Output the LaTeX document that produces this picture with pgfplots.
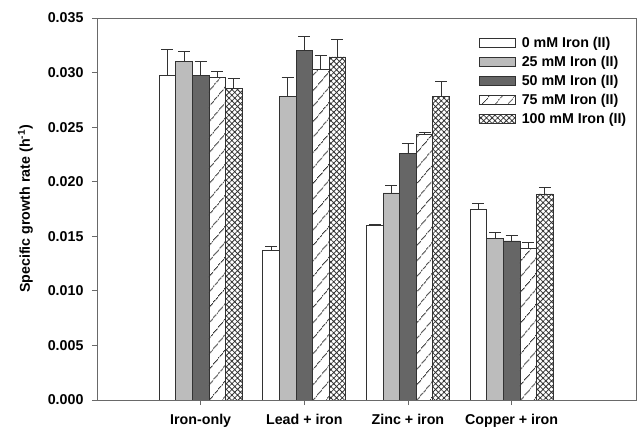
\documentclass[border=0pt]{standalone}
\usepackage{fontspec}
\setmainfont{Liberation Sans}
\usepackage{pgfplots}
\usepackage{pgfplotstable}
\pgfplotsset{compat=1.18}
\usetikzlibrary{patterns.meta}

\definecolor{barline}{RGB}{50,50,50}
\definecolor{lightbar}{RGB}{188,188,188}
\definecolor{darkbar}{RGB}{102,102,102}
\definecolor{axisgray}{RGB}{105,105,105}

% specific growth rate and standard error per treatment and Fe(II) level
\pgfplotstableread{
x  y0      e0      y25     e25     y50     e50     y75     e75     y100    e100
0  0.02975 0.00240 0.03100 0.00090 0.02970 0.00130 0.02953 0.00060 0.02852 0.00090
1  0.01368 0.00040 0.02782 0.00170 0.03200 0.00130 0.03030 0.00130 0.03143 0.00160
2  0.01597 0.00010 0.01897 0.00070 0.02263 0.00090 0.02434 0.00020 0.02782 0.00140
3  0.01747 0.00055 0.01478 0.00060 0.01457 0.00050 0.01390 0.00050 0.01888 0.00060
}\growth

\newcommand{\lblfont}{\fontsize{14.3}{16}\selectfont\bfseries}

\begin{document}
\begin{tikzpicture}
\useasboundingbox (-97bp,-29bp) rectangle (540bp,400bp);
\begin{axis}[
  at={(0,0)}, anchor=south west,
  scale only axis, width=539bp, height=382bp,
  xmin=-1, xmax=4.2, ymin=0, ymax=0.035,
  ybar=0pt, bar width=0.16,
  every axis plot post/.append style={
    legend image code/.code={\draw[##1, line width=0.7bp] (0bp,-4.5bp) rectangle (36bp,4.5bp);}
  },
  xtick={0,1,2,3},
  xticklabels={Iron-only, Lead + iron, Zinc + iron, Copper + iron},
  ytick={0,0.005,0.010,0.015,0.020,0.025,0.030,0.035},
  scaled y ticks=false,
  yticklabel style={/pgf/number format/fixed, /pgf/number format/fixed zerofill,
    /pgf/number format/precision=3, /pgf/number format/assume math mode=true,
    /tikz/xshift=-5bp},
  xticklabel style={/tikz/yshift=-6bp},
  tick label style={font=\lblfont},
  xtick pos=bottom, ytick pos=left,
  tick align=outside, major tick length=5bp,
  axis line style={axisgray, line width=0.8bp},
  tick style={axisgray, line width=0.8bp},
  ylabel={Specific growth rate (h\textsuperscript{-1})},
  ylabel style={font=\lblfont, yshift=8bp},
  error bars/y dir=plus, error bars/y explicit,
  error bars/error bar style={barline, line width=0.8bp},
  error bars/error mark options={rotate=90, barline, mark size=6bp, line width=0.8bp},
  legend style={draw=none, fill=none, at={(0.702,0.962)}, anchor=north west,
    font=\lblfont, row sep=3.3bp, column sep=4.5bp},
  legend cell align=left,
]
\addplot[draw=barline, fill=white, line width=0.7bp]
  table[x=x, y=y0, y error=e0]{\growth};
\addplot[draw=barline, fill=lightbar, line width=0.7bp]
  table[x=x, y=y25, y error=e25]{\growth};
\addplot[draw=barline, fill=darkbar, line width=0.7bp]
  table[x=x, y=y50, y error=e50]{\growth};
\addplot[draw=barline, line width=0.7bp, pattern color=barline,
  pattern={Lines[angle=50, distance=10bp, line width=0.85bp]}]
  table[x=x, y=y75, y error=e75]{\growth};
\addplot[draw=barline, line width=0.7bp, pattern color=barline,
  pattern={Hatch[angle=45, distance=4bp, line width=0.8bp]}]
  table[x=x, y=y100, y error=e100]{\growth};
\legend{0 mM Iron (II), 25 mM Iron (II), 50 mM Iron (II), 75 mM Iron (II), 100 mM Iron (II)}
\end{axis}
\end{tikzpicture}
\end{document}
